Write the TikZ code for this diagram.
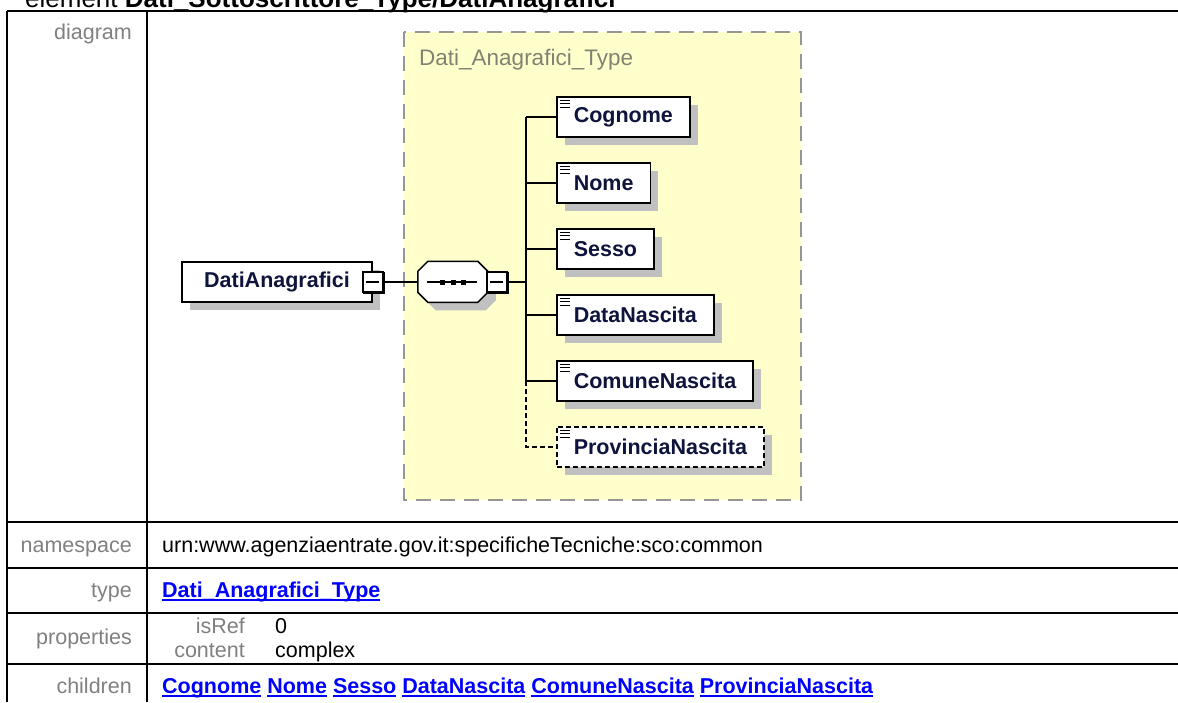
\documentclass[tikz,border=0pt]{standalone}
\usepackage{fontspec}
\setmainfont{Liberation Sans}
\usetikzlibrary{calc, shadows}
\definecolor{typefill}{RGB}{255,255,204}
\definecolor{typeborder}{RGB}{150,150,150}
\definecolor{typetext}{RGB}{130,130,115}
\definecolor{shadowgray}{RGB}{192,192,192}
\definecolor{ink}{RGB}{15,20,60}
\definecolor{labelgray}{RGB}{128,128,128}
\definecolor{linkblue}{RGB}{0,0,255}

\newcommand{\linkul}[1]{\setbox0\hbox{#1}\rlap{\rule[-4pt]{\wd0}{2pt}}\box0\relax}

\tikzset{
    rule/.style={line width=2pt},
    rowlabel/.style={anchor=base east, inner sep=0pt, text=labelgray, font=\fontsize{21.5}{24}\selectfont},
    rowvalue/.style={anchor=base west, inner sep=0pt, font=\fontsize{21.5}{24}\selectfont},
    link/.style={text=linkblue, font=\bfseries\fontsize{21.5}{24}\selectfont},
    typebox/.style={fill=typefill, draw=typeborder, line width=2pt, dash pattern=on 15pt off 9pt},
    boxshadow/.style={drop shadow={shadow xshift=8pt, shadow yshift=-8pt, fill=shadowgray, opacity=1}},
    elem/.style={draw, line width=1.5pt, fill=white, text=ink, font=\bfseries\fontsize{21.5}{24}\selectfont, minimum height=40pt, inner xsep=17pt, boxshadow},
    optelem/.style={elem, dash pattern=on 5pt off 3pt},
    seqbox/.style={minimum width=70pt, minimum height=41pt, inner sep=0pt},
    octagon/.style={line width=1.5pt, fill=white},
    toggle/.style={draw, line width=1.5pt, fill=white, minimum size=20pt, inner sep=0pt},
    wire/.style={line width=1.5pt},
    optwire/.style={dash pattern=on 5pt off 3pt}
}

\begin{document}
\begin{tikzpicture}[x=1pt, y=-1pt]
    \useasboundingbox (0,0) rectangle (1178,702);
    \node[anchor=base west, inner sep=0pt, font=\fontsize{26}{30}\selectfont] (title) at (25,7) {element \textbf{Dati\_Sottoscrittore\_Type/DatiAnagrafici}};

    \foreach \y in {11, 522, 568, 613, 664} \draw[rule] (7,\y) -- (1178,\y);
    \draw[rule] (7,11) -- (7,702);
    \draw[rule] (147,11) -- (147,702);

    \node[rowlabel] (lDiagram) at (132,39) {diagram};
    \node[rowlabel] (lNamespace) at (132,552) {namespace};
    \node[rowlabel] (lType) at (132,597) {type};
    \node[rowlabel] (lProps) at (132,644) {properties};
    \node[rowlabel] (lChildren) at (132,693) {children};

    \node[rowvalue] (vNamespace) at (162,552) {urn:www.agenziaentrate.gov.it:specificheTecniche:sco:common};
    \node[rowvalue, link] (vType) at (162,597) {\linkul{Dati\_Anagrafici\_Type}};
    \node[rowlabel] (kIsRef) at (245,633) {isRef};
    \node[rowlabel] (kContent) at (245,657) {content};
    \node[rowvalue] (vIsRef) at (275,633) {0};
    \node[rowvalue] (vContent) at (275,657) {complex};
    \node[rowvalue, link] (vChildren) at (162,693) {\linkul{Cognome} \linkul{Nome} \linkul{Sesso} \linkul{DataNascita} \linkul{ComuneNascita} \linkul{ProvinciaNascita}};

    \filldraw[typebox] (404,32) rectangle (801,500);
    \node[anchor=base west, inner sep=0pt, text=typetext, font=\fontsize{22.5}{26}\selectfont] (typeName) at (419,65) {Dati\_Anagrafici\_Type};

    \node[elem, minimum width=190pt] (root) at (277,282) {DatiAnagrafici};
    \node[seqbox] (seq) at (453,282) {};
    \fill[shadowgray] ($(seq.north west)+(8,18)$) -- ++(10,-10) -- ++(50,0) -- ++(10,10) -- ++(0,21) -- ++(-10,10) -- ++(-50,0) -- ++(-10,-10) -- cycle;
    \filldraw[octagon] ($(seq.north west)+(0,10)$) -- ++(10,-10) -- ++(50,0) -- ++(10,10) -- ++(0,21) -- ++(-10,10) -- ++(-50,0) -- ++(-10,-10) -- cycle;
    \node[toggle] (tgRoot) at (373,282) {};
    \node[toggle] (tgSeq) at (497,282) {};
    \coordinate (bus) at (526,282);

    \foreach \nm [count=\i from 0] in {Cognome, Nome, Sesso, DataNascita, ComuneNascita}
        \node[elem, anchor=west] (\nm) at (556,117+66*\i) {\nm};
    \node[optelem, anchor=west] (ProvinciaNascita) at (556,447) {ProvinciaNascita};

    \foreach \t in {tgRoot, tgSeq} {
        \draw[line width=3pt] ($(\t.north east)+(0,1)$) -- (\t.south east) -- ($(\t.south west)+(1,0)$);
        \draw[line width=1.5pt] ($(\t.west)+(4,0)$) -- ($(\t.east)+(-5,0)$);
    }
    \draw[wire] ($(seq.west)+(9,0)$) -- ($(seq.east)+(-11,0)$);
    \foreach \dx in {-11, 0, 10} \fill ($(seq.center)+(\dx,0)$) ++(-2.5,-2.5) rectangle ++(5,5);

    \foreach \nm in {Cognome, Nome, Sesso, DataNascita, ComuneNascita, ProvinciaNascita}
        \foreach \k in {0, 1, 2}
            \draw[line width=1.2pt] ($(\nm.north west)+(4,4+3.5*\k)$) -- ++(10,0);

    \draw[wire] (tgRoot) -- (seq);
    \draw[wire] (tgSeq) -- (bus);
    \draw[wire] (Cognome.west -| bus) -- (ComuneNascita.west -| bus);
    \foreach \nm in {Cognome, Nome, Sesso, DataNascita, ComuneNascita}
        \draw[wire] (\nm.west -| bus) -- (\nm.west);
    \draw[wire, optwire] (ComuneNascita.west -| bus) -- (ProvinciaNascita.west -| bus) -- (ProvinciaNascita.west);
\end{tikzpicture}
\end{document}
